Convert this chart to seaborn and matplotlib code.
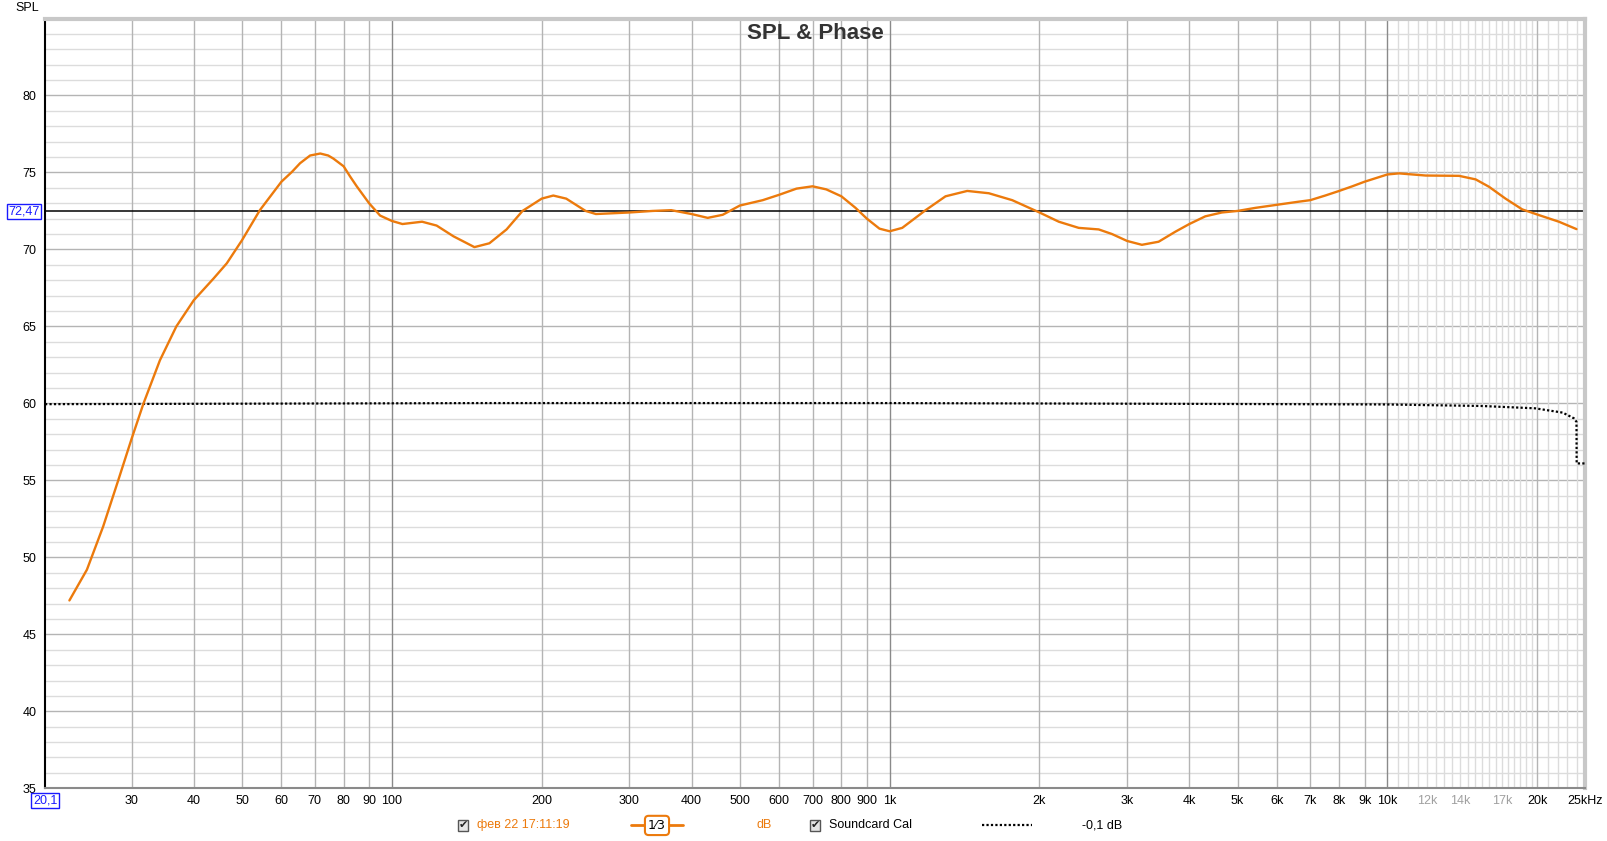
import numpy as np
import pandas as pd
import matplotlib.pyplot as plt
import matplotlib.transforms as mtransforms
from matplotlib.lines import Line2D
from matplotlib.ticker import NullLocator
import seaborn as sns

spl_freq = [22.5, 24.4, 26.3, 28.2, 30, 31.7, 34.2, 36.9, 40, 43.8,
            46.6, 50, 54.3, 60, 63, 65.4, 68.5, 71.8, 74.5, 76.3, 80, 82.5, 85, 90,
            94.7, 100, 105, 115, 123, 133, 146.5, 157, 170, 183,
            200, 211, 224, 245, 257, 278, 300, 334, 364, 400,
            431, 462, 500, 556, 600, 650, 700, 746, 800, 854,
            900, 954, 1000, 1060, 1181, 1295, 1432, 1582, 1763, 2000,
            2187, 2398, 2630, 2797, 3000, 3212, 3470, 3749, 4000, 4307,
            4650, 5000, 5430, 6000, 6630, 7000, 7500, 8000, 8500, 9000,
            10000, 10550, 11940, 13930, 15040, 16000, 17270, 18660, 20160, 22110,
            23980]
spl_db = [47.2, 49.2, 52.0, 55.0, 57.7, 60.0, 62.8, 65.0, 66.7, 68.1,
          69.1, 70.6, 72.55, 74.4, 75.04, 75.6, 76.1, 76.23, 76.1, 75.9, 75.4, 74.72, 74.1, 73.0,
          72.2, 71.85, 71.65, 71.8, 71.55, 70.85, 70.15, 70.4, 71.3, 72.5,
          73.3, 73.5, 73.3, 72.5, 72.3, 72.35, 72.4, 72.5, 72.55, 72.3,
          72.05, 72.25, 72.85, 73.2, 73.55, 73.95, 74.1, 73.9, 73.45, 72.7,
          72.0, 71.35, 71.18, 71.4, 72.55, 73.45, 73.8, 73.65, 73.2, 72.4,
          71.8, 71.4, 71.3, 71.0, 70.55, 70.3, 70.5, 71.15, 71.65, 72.15,
          72.4, 72.5, 72.7, 72.9, 73.1, 73.2, 73.5, 73.8, 74.1, 74.4,
          74.87, 74.94, 74.8, 74.78, 74.55, 74.07, 73.3, 72.6, 72.23, 71.8,
          71.32]

# Soundcard calibration curve, drawn around 60 dB
cal_freq = [20.1, 50, 150, 1000, 5000, 10000, 15500, 19800, 22500, 23700, 23980, 24000, 25000]
cal_db = [59.95, 59.98, 60.02, 60.02, 59.96, 59.93, 59.83, 59.68, 59.4, 59.03, 58.8, 56.1, 56.1]

ref_level = 72.47

# Axis ticks
x_ticks = [30, 40, 50, 60, 70, 80, 90, 100, 200, 300, 400, 500, 600, 700, 800, 900,
           1000, 2000, 3000, 4000, 5000, 6000, 7000, 8000, 9000, 10000,
           12000, 14000, 17000, 20000, 25000]
x_labels = ["30", "40", "50", "60", "70", "80", "90", "100", "200", "300", "400", "500",
            "600", "700", "800", "900", "1k", "2k", "3k", "4k", "5k", "6k", "7k", "8k",
            "9k", "10k", "12k", "14k", "17k", "20k", "25kHz"]
faded_labels = ["12k", "14k", "17k"]
y_ticks = [35, 40, 45, 50, 55, 60, 65, 70, 75, 80]

orange = "#ec7a0c"

sns.set_theme(style="white")
plt.rcParams['font.family'] = ['Liberation Sans', 'DejaVu Sans']

spl_df = pd.DataFrame({"freq": spl_freq, "spl": spl_db})
cal_df = pd.DataFrame({"freq": cal_freq, "spl": cal_db})

fig = plt.figure(figsize=(16.08, 8.41), dpi=100)
fig.patch.set_facecolor("white")
ax = fig.add_axes([0.028, 0.0627, 0.958, 0.9153])
ax.set_xscale("log")
ax.set_xlim(20.1, 25000)
ax.set_ylim(35, 85)

# grid lines, drawn by hand to get the REW look
for v in range(35, 86):
    col = "#b4b4b4" if v % 5 == 0 else "#dcdcdc"
    ax.axhline(v, color=col, lw=1, zorder=0)

for dec in [10, 100, 1000]:
    for m in range(2, 10):
        f = m * dec
        if f >= 30:
            ax.axvline(f, color="#b4b4b4", lw=1, zorder=0)
for f in [100, 1000, 10000]:
    ax.axvline(f, color="#8a8a8a", lw=1, zorder=0.5)
for f in np.arange(10500, 20000, 500):
    ax.axvline(f, color="#dcdcdc", lw=1, zorder=0)
for f in [21000, 22000, 23000, 24000]:
    ax.axvline(f, color="#dcdcdc", lw=1, zorder=0)
ax.axvline(20000, color="#b4b4b4", lw=1, zorder=0)

# reference level line
ax.axhline(ref_level, color="black", lw=1.1, zorder=2)

sns.lineplot(data=cal_df, x="freq", y="spl", ax=ax, color="black", lw=1.6,
             linestyle=(0, (1, 1)), legend=False, zorder=3)
sns.lineplot(data=spl_df, x="freq", y="spl", ax=ax, color=orange, lw=1.7,
             legend=False, zorder=4)

ax.set_xlabel("")
ax.set_ylabel("")

ax.xaxis.set_minor_locator(NullLocator())
ax.set_xticks(x_ticks)
ax.set_xticklabels(x_labels)
ax.set_yticks(y_ticks)
ax.tick_params(axis="both", length=0, labelsize=9, colors="black")
ax.tick_params(axis="x", pad=5)
ax.tick_params(axis="y", pad=6)
for lab in ax.get_xticklabels():
    if lab.get_text() in faded_labels:
        lab.set_color("#a0a0a0")

# frame
ax.spines["left"].set_color("black")
ax.spines["left"].set_linewidth(1.5)
ax.spines["bottom"].set_color("#8a8a8a")
ax.spines["bottom"].set_linewidth(1.5)
ax.spines["top"].set_color("#c8c8c8")
ax.spines["top"].set_linewidth(3)
ax.spines["right"].set_color("#c8c8c8")
ax.spines["right"].set_linewidth(3)

ax.text(0.5, 0.98, "SPL & Phase", transform=ax.transAxes, ha="center", va="center",
        fontsize=16, fontweight="bold", color="#333333")
fig.text(0.0172, 0.991, "SPL", ha="center", va="center", fontsize=9, color="black")

# blue value boxes
blue_box = dict(boxstyle="square,pad=0.12", fc="white", ec="#1a1aff", lw=1)
trans_y = mtransforms.blended_transform_factory(ax.transAxes, ax.transData)
ax.text(-0.0135, ref_level, "72,47", transform=trans_y, ha="center", va="center",
        fontsize=9, color="#1a1aff", bbox=blue_box, clip_on=False)
trans_x = mtransforms.blended_transform_factory(ax.transData, ax.transAxes)
ax.text(20.1, -0.016, "20,1", transform=trans_x, ha="center", va="center",
        fontsize=9, color="#1a1aff", bbox=blue_box, clip_on=False)

# legend row at the bottom
ly = 0.0185
check_box = dict(boxstyle="square,pad=0.05", fc="#e6e6e6", ec="#555555", lw=1)
fig.text(463 / 1608, ly, "\u2714", ha="center", va="center", fontsize=8,
         family=["DejaVu Sans"], color="#222222", bbox=check_box)
fig.text(477 / 1608, ly, "фев 22 17:11:19", ha="left", va="center", fontsize=9, color=orange)
fig.add_artist(Line2D([631 / 1608, 683 / 1608], [ly, ly], transform=fig.transFigure,
                      color=orange, lw=2))
fig.text(657 / 1608, ly, "1\u20443", ha="center", va="center", fontsize=9, color="black",
         family=["DejaVu Sans"],
         bbox=dict(boxstyle="round,pad=0.25,rounding_size=0.3", fc="white", ec=orange, lw=1.5))
fig.text(764 / 1608, ly, "dB", ha="center", va="center", fontsize=9, color=orange)
fig.text(815 / 1608, ly, "\u2714", ha="center", va="center", fontsize=8,
         family=["DejaVu Sans"], color="#222222", bbox=check_box)
fig.text(829 / 1608, ly, "Soundcard Cal", ha="left", va="center", fontsize=9, color="black")
fig.add_artist(Line2D([982 / 1608, 1032 / 1608], [ly, ly], transform=fig.transFigure,
                      color="black", lw=1.6, linestyle=(0, (1, 1))))
fig.text(1082 / 1608, ly, "-0,1 dB", ha="left", va="center", fontsize=9, color="black")

fig.savefig("out.png", dpi=100)
